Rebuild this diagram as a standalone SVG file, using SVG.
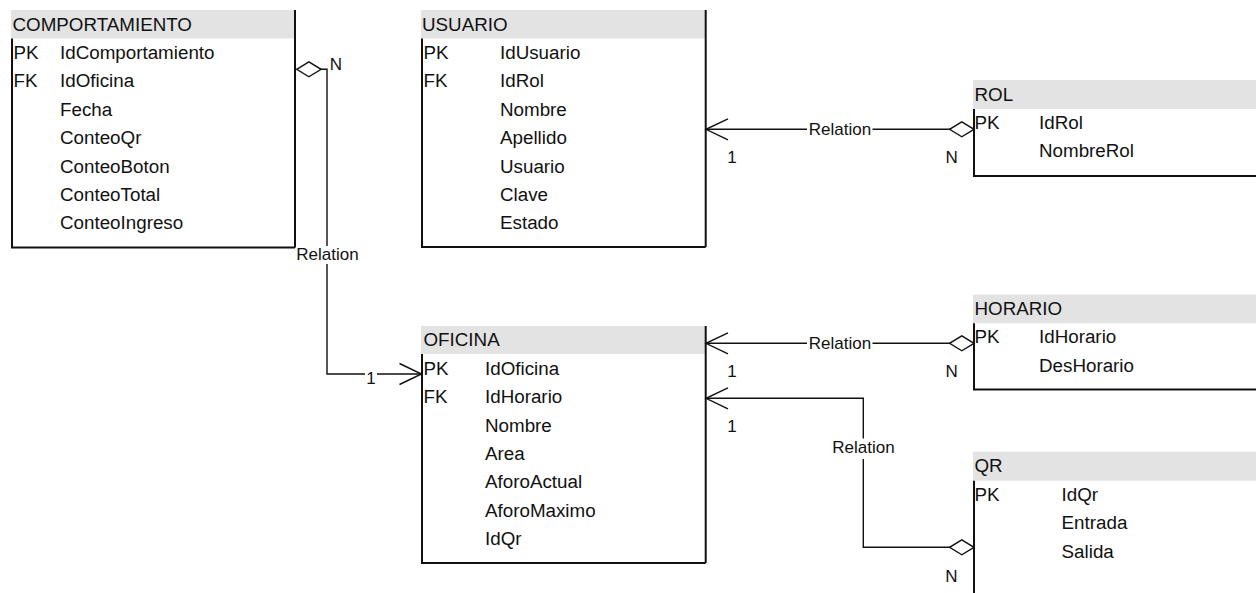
<svg xmlns="http://www.w3.org/2000/svg" width="1256" height="593" viewBox="0 0 1256 593">
  <style>
    text { font-family: "Liberation Sans", Arial, sans-serif; fill: #111; }
    .t { font-size: 18.8px; }
    .lb { font-size: 17px; }
    .mid { text-anchor: middle; }
    .hdr { fill: #e3e3e3; stroke: none; }
    .brd { fill: none; stroke: #111; stroke-width: 2; }
    .con { fill: none; stroke: #111; stroke-width: 1.4; }
    .bg { fill: #fff; stroke: none; }
  </style>
  <defs>
    <marker id="dia" markerUnits="userSpaceOnUse" orient="auto" refX="0" refY="0" markerWidth="40" markerHeight="40" overflow="visible">
      <path d="M0,0 L12.2,-7.5 L24.4,0 L12.2,7.5 Z" fill="#fff" stroke="#111" stroke-width="1.4"/>
    </marker>
    <marker id="chev" markerUnits="userSpaceOnUse" orient="auto" refX="0" refY="0" markerWidth="40" markerHeight="40" overflow="visible">
      <path d="M-22,-10.5 L0,0 L-22,10.5" fill="none" stroke="#111" stroke-width="1.4"/>
    </marker>
  </defs>

  <g id="COMPORTAMIENTO">
    <rect class="hdr" x="11" y="10" width="284" height="28.5"/>
    <path class="brd" d="M12,38.5 V247.5 H295 M295,10 V247.5"/>
    <text class="t" x="12.5" y="30.7">COMPORTAMIENTO</text>
    <text class="t" x="13.5" y="59">PK</text>
    <text class="t" x="13.5" y="87.4">FK</text>
    <text class="t" x="60" y="59">IdComportamiento</text>
    <text class="t" x="60" y="87.4">IdOficina</text>
    <text class="t" x="60" y="115.8">Fecha</text>
    <text class="t" x="60" y="144.2">ConteoQr</text>
    <text class="t" x="60" y="172.6">ConteoBoton</text>
    <text class="t" x="60" y="201">ConteoTotal</text>
    <text class="t" x="60" y="229.4">ConteoIngreso</text>
  </g>

  <g id="USUARIO">
    <rect class="hdr" x="421" y="10" width="284.7" height="28.5"/>
    <path class="brd" d="M422,38.5 V247 H705.7 M705.7,10 V247"/>
    <text class="t" x="422" y="30.7">USUARIO</text>
    <text class="t" x="423.6" y="59">PK</text>
    <text class="t" x="423.6" y="87.4">FK</text>
    <text class="t" x="500" y="59">IdUsuario</text>
    <text class="t" x="500" y="87.4">IdRol</text>
    <text class="t" x="500" y="115.8">Nombre</text>
    <text class="t" x="500" y="144.2">Apellido</text>
    <text class="t" x="500" y="172.6">Usuario</text>
    <text class="t" x="500" y="201">Clave</text>
    <text class="t" x="500" y="229.4">Estado</text>
  </g>

  <g id="OFICINA">
    <rect class="hdr" x="421" y="326" width="284.7" height="28"/>
    <path class="brd" d="M422,354 V563 H705.7 M705.7,326 V563"/>
    <text class="t" x="423.5" y="346.3">OFICINA</text>
    <text class="t" x="423.6" y="374.8">PK</text>
    <text class="t" x="423.6" y="403.2">FK</text>
    <text class="t" x="485" y="374.8">IdOficina</text>
    <text class="t" x="485" y="403.2">IdHorario</text>
    <text class="t" x="485" y="431.6">Nombre</text>
    <text class="t" x="485" y="460">Area</text>
    <text class="t" x="485" y="488.4">AforoActual</text>
    <text class="t" x="485" y="516.8">AforoMaximo</text>
    <text class="t" x="485" y="545.2">IdQr</text>
  </g>

  <g id="ROL">
    <rect class="hdr" x="973" y="80" width="283" height="29"/>
    <path class="brd" d="M974,109 V176 H1257"/>
    <text class="t" x="974.5" y="100.8">ROL</text>
    <text class="t" x="974.6" y="129">PK</text>
    <text class="t" x="1039" y="129">IdRol</text>
    <text class="t" x="1039" y="157.4">NombreRol</text>
  </g>

  <g id="HORARIO">
    <rect class="hdr" x="973" y="294.5" width="283" height="28.8"/>
    <path class="brd" d="M974,323.3 V389.5 H1257"/>
    <text class="t" x="974.5" y="315.2">HORARIO</text>
    <text class="t" x="974.6" y="343.3">PK</text>
    <text class="t" x="1039" y="343.3">IdHorario</text>
    <text class="t" x="1039" y="371.7">DesHorario</text>
  </g>

  <g id="QR">
    <rect class="hdr" x="973" y="451.7" width="283" height="29"/>
    <path class="brd" d="M974,480.7 V594"/>
    <text class="t" x="974.5" y="472.3">QR</text>
    <text class="t" x="974.6" y="500.7">PK</text>
    <text class="t" x="1061.6" y="500.7">IdQr</text>
    <text class="t" x="1061.6" y="529.1">Entrada</text>
    <text class="t" x="1061.6" y="557.5">Salida</text>
  </g>

  <g id="connectors">
    <path class="con" d="M296.7,69.3 H327 V374 H421.5" marker-start="url(#dia)" marker-end="url(#chev)"/>
    <rect class="bg" x="297" y="246" width="61.5" height="18"/>
    <text class="lb mid" x="327.5" y="260">Relation</text>
    <text class="lb mid" x="336" y="70">N</text>
    <rect class="bg" x="365" y="369" width="12" height="17"/>
    <text class="lb mid" x="371" y="384">1</text>

    <path class="con" d="M974,129.3 H706" marker-start="url(#dia)" marker-end="url(#chev)"/>
    <rect class="bg" x="807" y="121" width="65.5" height="16"/>
    <text class="lb mid" x="840" y="135">Relation</text>
    <text class="lb mid" x="732" y="162.7">1</text>
    <text class="lb mid" x="951.7" y="163.3">N</text>

    <path class="con" d="M974,343.3 H706" marker-start="url(#dia)" marker-end="url(#chev)"/>
    <rect class="bg" x="807" y="335" width="65.5" height="16"/>
    <text class="lb mid" x="840" y="349">Relation</text>
    <text class="lb mid" x="732" y="376.7">1</text>
    <text class="lb mid" x="951.7" y="376.7">N</text>

    <path class="con" d="M974,547.3 H863.3 V398.3 H706" marker-start="url(#dia)" marker-end="url(#chev)"/>
    <rect class="bg" x="832" y="438.5" width="63" height="20.5"/>
    <text class="lb mid" x="863.5" y="453.3">Relation</text>
    <text class="lb mid" x="732" y="431.7">1</text>
    <text class="lb mid" x="951.5" y="581.7">N</text>
  </g>
</svg>
